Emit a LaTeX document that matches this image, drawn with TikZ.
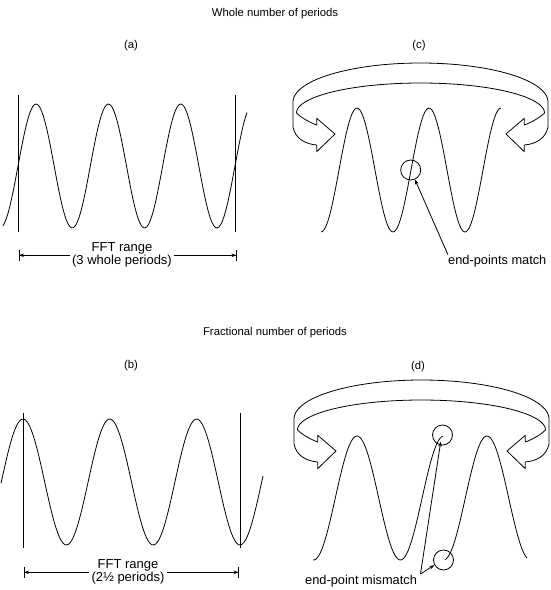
\documentclass[tikz,border=0pt]{standalone}
\usepackage{fontspec}
\setmainfont{Liberation Sans}
\usetikzlibrary{arrows.meta}
\tikzset{
  >={Stealth[length=5pt,width=3.6pt]},
  lbl/.style={font=\fontsize{11.3}{13}\selectfont,inner sep=0pt},
  rng/.style={font=\fontsize{13}{11.6}\selectfont,align=center,inner xsep=2pt,inner ysep=0pt},
  note/.style={font=\fontsize{#1}{#1}\selectfont,inner sep=0pt},
  note/.default=12.8,
  wave/.style={line width=0.8pt,line join=round},
  ring/.style={circle,draw,line width=0.8pt,minimum size=20pt,inner sep=0pt},
  span/.style={->,line width=0.8pt},
  % wrap-around ribbon
  pics/twist/.style={code={
    \draw[wave] (-127.5,0) -- (-127.5,25) .. controls (-125,37) and (-115,42) .. (-103.8,43)
      -- (-103.8,49.7) -- (-85.5,32) -- (-103.8,16.3) -- (-103.8,23)
      .. controls (-112,20) and (-120,15) .. (-124,11);
  }},
  pics/ribbon/.style={code={
    \draw[wave] plot[domain=180:360,samples=72] ({127.5*cos(\x)},{39*sin(\x)});
    \draw[wave] plot[domain=180:360,samples=72] ({124*cos(\x)},{11+30*sin(\x)});
    \pic {twist};
    \pic[xscale=-1] {twist};
  }},
}
\begin{document}
\begin{tikzpicture}[x=1pt,y=-1pt]
  \useasboundingbox (0,0) rectangle (551,590);

  % titles
  \node[lbl] (top) at (275,14) {Whole number of periods};
  \node[lbl] (bot) at (275,333) {Fractional number of periods};
  \node[lbl] (la) at (131,46) {(a)};
  \node[lbl] (lc) at (419,46) {(c)};
  \node[lbl] (lb) at (131,366) {(b)};
  \node[lbl] (ld) at (418,367) {(d)};

  % (a) three whole periods
  \draw[wave] plot[domain=3:247,samples=140] (\x,{166-62*sin((\x-18)/72.33*360)});
  \draw[wave] (18.3,95) -- (18.3,232) (235.7,95) -- (235.7,232);
  \coordinate (aL) at (19,255.3);
  \coordinate (aR) at (236.5,255.3);
  \node[rng] (ra) at (122,255.3) {FFT range\\(3 whole periods)};
  \draw[span] (ra.west |- aL) -- (aL);
  \draw[span] (ra.east |- aR) -- (aR);
  \draw[wave] (aL) ++(0,-5.8) -- ++(0,11.6) (aR) ++(0,-5.8) -- ++(0,11.6);

  % (b) two and a half periods
  \draw[wave] plot[domain=1:263,samples=140] (\x,{482-63*cos((\x-23)/86.8*360)});
  \draw[wave] (23.3,413) -- (23.3,548) (240,413) -- (240,548);
  \coordinate (bL) at (24,572.3);
  \coordinate (bR) at (238.5,572.3);
  \node[rng] (rb) at (128,572.3) {FFT range\\(2\textonehalf\ periods)};
  \draw[span] (rb.west |- bL) -- (bL);
  \draw[span] (rb.east |- bR) -- (bR);
  \draw[wave] (bL) ++(0,-5.8) -- ++(0,11.6) (bR) ++(0,-5.8) -- ++(0,11.6);

  % (c) ends joined
  \pic at (420.5,102) {ribbon};
  \draw[wave] plot[domain=321:501,samples=110] (\x,{170-62*sin((\x-411)/72*360)});
  \node[ring] (mc) at (410.7,170) {};
  \node[note,anchor=west] (match) at (448,261) {end-points match};
  \draw[span] (match.north west) -- (mc.-66);

  % (d) ends do not meet
  \pic at (421.5,419) {ribbon};
  \draw[wave] plot[domain=313:443,samples=90] (\x,{498-62*cos((\x-357)/86.8*360)});
  \draw[wave] plot[domain=445:527,samples=60] (\x,{498-62*cos((\x-487)/86.8*360)});
  \node[ring] (m1) at (442.5,435) {};
  \node[ring] (m2) at (443.5,560) {};
  \coordinate (t1) at (440.7,441.7);
  \node[note,anchor=west] (mis) at (305,581.5) {end-point mismatch};
  \coordinate (jn) at (420.5,574);
  \draw[span] (jn) -- (t1);
  \draw[span] (jn) -- (m2.209);
\end{tikzpicture}
\end{document}
